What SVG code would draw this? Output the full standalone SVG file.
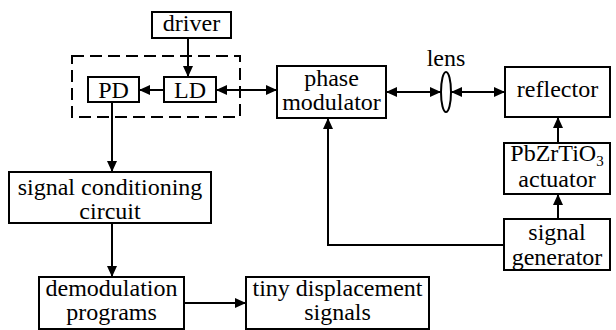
<svg xmlns="http://www.w3.org/2000/svg" width="616" height="330" viewBox="0 0 616 330">
<style>
.box{fill:#fff;stroke:#000;stroke-width:2}
.dash{fill:none;stroke:#000;stroke-width:2;stroke-dasharray:12 6}
.t{font-family:"Liberation Serif","Times New Roman",serif;font-size:24px;fill:#000;text-anchor:middle}
.c{fill:none;stroke:#000;stroke-width:2}
</style>
<defs>
<marker id="ah" markerUnits="userSpaceOnUse" markerWidth="12" markerHeight="10" refX="11" refY="5" orient="auto-start-reverse">
<path d="M0,0 L11,5 L0,10 z" fill="#000"/>
</marker>
</defs>
<rect width="616" height="330" fill="#fff"/>
<g id="connectors">
<line class="c" x1="188" y1="38" x2="188" y2="77" marker-end="url(#ah)"/>
<line class="c" x1="164" y1="90" x2="139" y2="90" marker-end="url(#ah)"/>
<line class="c" x1="216" y1="90" x2="277" y2="90" marker-start="url(#ah)" marker-end="url(#ah)"/>
<line class="c" x1="386" y1="92" x2="441" y2="92" marker-start="url(#ah)" marker-end="url(#ah)"/>
<line class="c" x1="451" y1="92" x2="505" y2="92" marker-start="url(#ah)" marker-end="url(#ah)"/>
<line class="c" x1="558" y1="143" x2="558" y2="117" marker-end="url(#ah)"/>
<line class="c" x1="558" y1="219" x2="558" y2="194" marker-end="url(#ah)"/>
<path class="c" d="M504,245 H328 V118" marker-end="url(#ah)"/>
<line class="c" x1="112" y1="102" x2="112" y2="172" marker-end="url(#ah)"/>
<line class="c" x1="112" y1="223" x2="112" y2="277" marker-end="url(#ah)"/>
<line class="c" x1="184" y1="303" x2="246" y2="303" marker-end="url(#ah)"/>
</g>
<g id="group-laser"><rect class="dash" x="72" y="56" width="168" height="61"/></g>
<g id="driver"><rect class="box" x="152" y="12" width="79" height="26"/><text class="t" x="191.5" y="31">driver</text></g>
<g id="PD"><rect class="box" x="88" y="77" width="51" height="25"/><text class="t" x="113.5" y="98">PD</text></g>
<g id="LD"><rect class="box" x="164" y="77" width="52" height="25"/><text class="t" x="190" y="98">LD</text></g>
<g id="phase-modulator"><rect class="box" x="277" y="66" width="109" height="52"/><text class="t" x="331.5" y="86">phase</text><text class="t" x="331.5" y="110">modulator</text></g>
<g id="lens"><ellipse cx="446" cy="92" rx="5" ry="20" fill="#fff" stroke="#000" stroke-width="2"/><text class="t" x="446" y="66">lens</text></g>
<g id="reflector"><rect class="box" x="505" y="67" width="105" height="50"/><text class="t" x="557.5" y="97">reflector</text></g>
<g id="actuator"><rect class="box" x="504" y="143" width="106" height="51"/><text class="t" x="557" y="161">PbZrTiO<tspan font-size="15" dy="5">3</tspan></text><text class="t" x="557" y="187">actuator</text></g>
<g id="signal-generator"><rect class="box" x="504" y="219" width="106" height="51"/><text class="t" x="557" y="240">signal</text><text class="t" x="557" y="265">generator</text></g>
<g id="signal-conditioning"><rect class="box" x="9" y="172" width="202" height="51"/><text class="t" x="110" y="195">signal conditioning</text><text class="t" x="110" y="219">circuit</text></g>
<g id="demodulation"><rect class="box" x="39" y="277" width="145" height="52"/><text class="t" x="111.5" y="296">demodulation</text><text class="t" x="111.5" y="320">programs</text></g>
<g id="tiny-displacement"><rect class="box" x="246" y="277" width="183" height="52"/><text class="t" x="337.5" y="296">tiny displacement</text><text class="t" x="337.5" y="320">signals</text></g>
</svg>
